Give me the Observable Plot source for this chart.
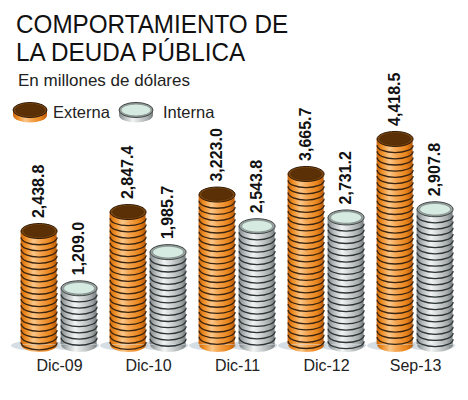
<!DOCTYPE html>
<html><head><meta charset="utf-8">
<script src="https://cdn.jsdelivr.net/npm/d3@7"></script>
<script src="https://cdn.jsdelivr.net/npm/@observablehq/plot@0.6"></script>
<style>
body{margin:0;background:#fff;}
#wrap{position:relative;width:468px;height:400px;overflow:hidden;font-family:"Liberation Sans",Arial,sans-serif;}
#chart{position:absolute;left:0;top:0;}
.title{position:absolute;left:16px;font-size:25px;line-height:28px;color:#111;transform:scaleX(0.97);transform-origin:0 0;white-space:nowrap;}
#sub{position:absolute;left:18px;top:71px;font-size:17px;line-height:20px;color:#222;white-space:nowrap;}
.ico{position:absolute;top:100px;}
.lt{position:absolute;top:102px;font-size:16.5px;line-height:20px;color:#222;white-space:nowrap;}
</style></head>
<body>
<svg width="0" height="0" style="position:absolute">
 <defs>
  <linearGradient id="gE" x1="0" x2="1" y1="0" y2="0">
   <stop offset="0" stop-color="#c8640a"/>
   <stop offset="0.14" stop-color="#ee8c22"/>
   <stop offset="0.36" stop-color="#fac688"/>
   <stop offset="0.55" stop-color="#f5a550"/>
   <stop offset="0.82" stop-color="#e9841a"/>
   <stop offset="1" stop-color="#bb5a08"/>
  </linearGradient>
  <linearGradient id="gI" x1="0" x2="1" y1="0" y2="0">
   <stop offset="0" stop-color="#7f8587"/>
   <stop offset="0.18" stop-color="#b9bebf"/>
   <stop offset="0.4" stop-color="#f2f4f4"/>
   <stop offset="0.6" stop-color="#d2d6d6"/>
   <stop offset="0.85" stop-color="#a6abac"/>
   <stop offset="1" stop-color="#767c7e"/>
  </linearGradient>
  <filter id="blur" x="-30%" y="-300%" width="160%" height="700%">
   <feGaussianBlur stdDeviation="3"/>
  </filter>
 </defs>
</svg>
<div id="wrap">
 <div id="chart"></div>
 <div class="title" style="top:10px">COMPORTAMIENTO DE</div>
 <div class="title" style="top:38px">LA DEUDA PÚBLICA</div>
 <div id="sub">En millones de dólares</div>
 <svg class="ico" style="left:11px" width="38" height="26" viewBox="0 0 38 26">
  <path d="M2,10 V15 A17,7.5 0 0 0 36,15 V10 Z" fill="url(#gE)"/>
  <ellipse cx="19" cy="10" rx="17" ry="7.5" fill="#7a4712" stroke="#2f1803"/>
  <ellipse cx="19" cy="10" rx="14.5" ry="5.8" fill="#5c3006" stroke="#4a2604" stroke-width="0.6"/>
 </svg>
 <div class="lt" style="left:53px">Externa</div>
 <svg class="ico" style="left:117px" width="38" height="26" viewBox="0 0 38 26">
  <path d="M2,10 V15 A17,7.5 0 0 0 36,15 V10 Z" fill="url(#gI)"/>
  <ellipse cx="19" cy="10" rx="17" ry="7.5" fill="#9aa2a0" stroke="#3d4444"/>
  <ellipse cx="19" cy="10" rx="15" ry="5.9" fill="#d5ebe1" stroke="#707a78" stroke-width="0.6"/>
 </svg>
 <div class="lt" style="left:163px">Interna</div>
</div>
<script>
const periodos = ["Dic-09", "Dic-10", "Dic-11", "Dic-12", "Sep-13"];
const series = ["Externa", "Interna"];
const externa = [2438.8, 2847.4, 3223.0, 3665.7, 4418.5];
const interna = [1209.0, 1985.7, 2543.8, 2731.2, 2907.8];

const data = periodos.flatMap((p, i) => [
  {periodo: p, serie: "Externa", valor: externa[i]},
  {periodo: p, serie: "Interna", valor: interna[i]}
]);
const coinStep = 133;
const coins = data.flatMap(d => d3.range(d.valor - coinStep, coinStep * 0.3, -coinStep).map(v => ({...d, nivel: v})));

const K = 0.5522848;
const ellipse = (rx, ry) => ({draw(c) {
  c.moveTo(rx, 0);
  c.bezierCurveTo(rx, ry * K, rx * K, ry, 0, ry);
  c.bezierCurveTo(-rx * K, ry, -rx, ry * K, -rx, 0);
  c.bezierCurveTo(-rx, -ry * K, -rx * K, -ry, 0, -ry);
  c.bezierCurveTo(rx * K, -ry, rx, -ry * K, rx, 0);
  c.closePath();
}});
const lowerArc = (rx, ry) => ({draw(c) {
  c.moveTo(rx, 0);
  c.bezierCurveTo(rx, ry * K, rx * K, ry, 0, ry);
  c.bezierCurveTo(-rx * K, ry, -rx, ry * K, -rx, 0);
}});
const lowerHalf = (rx, ry) => ({draw(c) {
  c.moveTo(rx, 0);
  c.bezierCurveTo(rx, ry * K, rx * K, ry, 0, ry);
  c.bezierCurveTo(-rx * K, ry, -rx, ry * K, -rx, 0);
  c.closePath();
}});

const estilo = {
  Externa: {body: "url(#gE)", line: "#3a2410", rim: "#7a4712", rimStroke: "#2f1803", face: "#5c3006", faceStroke: "#4a2604"},
  Interna: {body: "url(#gI)", line: "#2e3436", rim: "#9aa2a0", rimStroke: "#3d4444", face: "#d5ebe1", faceStroke: "#707a78"}
};
const RX = 18, RY = 7.5;
const zero = () => 0;

const marks = [
  Plot.dot(data, {fx: "periodo", x: "serie", y: zero, symbol: ellipse(24, 5), fill: "#b4c2cf", fillOpacity: 0.55, dx: -4, dy: 1, ariaLabel: "shadow"})
];
for (const s of series) {
  const st = estilo[s];
  const ds = data.filter(d => d.serie === s);
  const cs = coins.filter(d => d.serie === s);
  marks.push(
    Plot.barY(ds, {fx: "periodo", x: "serie", y1: zero, y2: "valor", fill: st.body, inset: 0}),
    Plot.dot(ds, {fx: "periodo", x: "serie", y: zero, symbol: lowerHalf(RX, RY), fill: st.body}),
    Plot.dot(cs, {fx: "periodo", x: "serie", y: "nivel", symbol: lowerArc(RX, RY), stroke: st.line, fill: "none", strokeWidth: 1.3}),
    Plot.dot(ds, {fx: "periodo", x: "serie", y: "valor", symbol: ellipse(RX, RY), fill: st.rim, stroke: st.rimStroke, strokeWidth: 1}),
    Plot.dot(ds, {fx: "periodo", x: "serie", y: "valor", symbol: ellipse(RX - 2.6, RY - 1.7), fill: st.face, stroke: st.faceStroke, strokeWidth: 0.6})
  );
}
marks.push(
  Plot.text(data, {
    fx: "periodo", x: "serie", y: "valor",
    text: d => d3.format(",.1f")(d.valor),
    rotate: -90, textAnchor: "start", lineAnchor: "middle", dy: -13,
    fontSize: 16, fontWeight: "bold", fill: "#111",
    fontFamily: "'Liberation Sans', Arial, sans-serif"
  })
);

const chart = Plot.plot({
  width: 468, height: 400,
  marginLeft: 13.4, marginRight: 8.4, marginTop: 130, marginBottom: 56,
  style: {fontFamily: "'Liberation Sans', Arial, sans-serif", fontSize: "16px", color: "#222", background: "transparent", overflow: "visible"},
  fx: {domain: periodos, paddingInner: 0.148, paddingOuter: 0.074, axis: "bottom", tickSize: 0, tickPadding: 15, label: null},
  x: {domain: series, paddingInner: 0.1, paddingOuter: 0, axis: null},
  y: {domain: [0, 4600], axis: null},
  marks
});
chart.querySelectorAll('g[aria-label="shadow"]').forEach(g => g.setAttribute("filter", "url(#blur)"));
document.getElementById("chart").appendChild(chart);
</script>
</body></html>
